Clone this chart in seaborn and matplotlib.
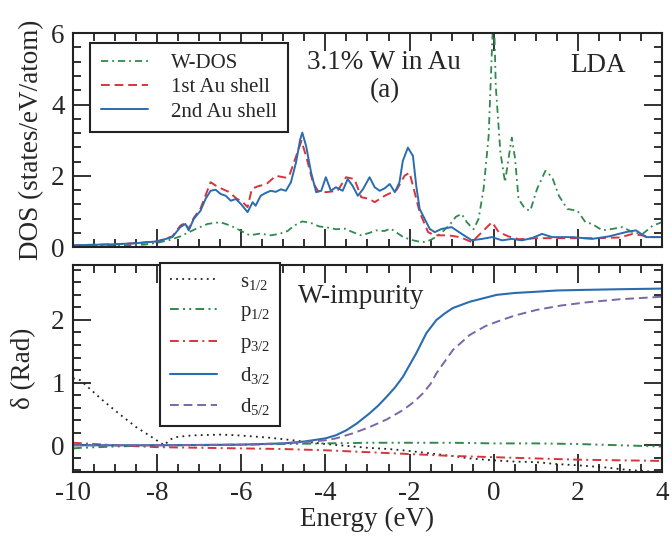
import numpy as np
import pandas as pd
import matplotlib
matplotlib.use("Agg")
import matplotlib.pyplot as plt
from matplotlib.ticker import MultipleLocator
import seaborn as sns

# ---------------- data ----------------
# (a) density of states
wdos_e = [-10, -9, -8.3, -8.0, -7.7, -7.45, -7.1, -6.8, -6.5, -6.25, -6.0, -5.8, -5.55,
          -5.3, -5.1, -4.9, -4.75, -4.55, -4.35, -4.15, -3.95, -3.75, -3.55, -3.35, -3.15,
          -2.95, -2.8, -2.6, -2.45, -2.3, -2.15, -1.95, -1.8, -1.64, -1.5, -1.35, -1.2,
          -1.05, -0.9, -0.76, -0.64, -0.48, -0.36, -0.24, -0.12, -0.06, 0.0, 0.05, 0.16,
          0.27, 0.35, 0.43, 0.51, 0.59, 0.75, 0.87, 1.03, 1.23, 1.39, 1.55, 1.75, 1.99,
          2.18, 2.34, 2.58, 2.82, 3.06, 3.3, 3.54, 3.78, 4.0]
wdos_v = [0.02, 0.04, 0.07, 0.12, 0.2, 0.3, 0.5, 0.65, 0.7, 0.6, 0.45, 0.33, 0.38,
          0.33, 0.37, 0.45, 0.6, 0.72, 0.68, 0.58, 0.55, 0.5, 0.52, 0.42, 0.33,
          0.4, 0.47, 0.45, 0.52, 0.4, 0.28, 0.2, 0.16, 0.14, 0.2, 0.3, 0.45,
          0.62, 0.85, 0.93, 0.7, 0.5, 0.79, 1.63, 3.12, 4.98, 6.8, 4.5, 2.65,
          1.82, 2.47, 3.07, 2.47, 1.35, 1.07, 1.02, 1.63, 2.14, 1.96, 1.44, 1.07, 1.02,
          0.7, 0.65, 0.47, 0.51, 0.56, 0.42, 0.37, 0.6, 0.7]

au1_e = [-10, -9, -8.5, -8.0, -7.64, -7.45, -7.33, -7.25, -7.13, -6.97, -6.85, -6.73,
         -6.6, -6.45, -6.3, -6.1, -6.0, -5.85, -5.75, -5.62, -5.4, -5.18, -4.95, -4.86,
         -4.72, -4.57, -4.44, -4.30, -4.18, -3.99, -3.71, -3.51, -3.31, -3.15, -2.95,
         -2.83, -2.59, -2.31, -2.12, -2.0, -1.88, -1.76, -1.56, -1.4, -1.08, -0.8, -0.52,
         -0.28, -0.04, 0.12, 0.35, 0.6, 1.0, 1.5, 2.0, 2.5, 3.0, 3.3, 3.78, 4.0]
au1_v = [0.05, 0.08, 0.11, 0.16, 0.3, 0.6, 0.68, 0.5, 0.82, 1.08, 1.45, 1.82,
         1.72, 1.63, 1.55, 1.35, 1.3, 1.12, 1.63, 1.7, 1.77, 2.0, 1.95, 2.0,
         2.47, 2.98, 2.47, 1.82, 1.58, 1.54, 1.58, 1.96, 1.91, 1.40, 1.35,
         1.26, 1.44, 1.6, 2.0, 2.09, 1.54, 0.98, 0.42, 0.33, 0.33, 0.28, 0.14,
         0.42, 0.70, 0.42, 0.3, 0.22, 0.25, 0.25, 0.25, 0.25, 0.27, 0.37, 0.28, 0.28]

au2_e = [-10, -9, -8.5, -8.0, -7.64, -7.45, -7.33, -7.25, -7.13, -6.97, -6.85, -6.73,
         -6.61, -6.49, -6.37, -6.25, -6.13, -6.01, -5.85, -5.73, -5.66, -5.54, -5.42,
         -5.30, -5.18, -5.06, -4.94, -4.82, -4.70, -4.60, -4.55, -4.46, -4.34, -4.22,
         -4.10, -3.99, -3.87, -3.75, -3.59, -3.47, -3.35, -3.23, -3.11, -2.95, -2.83,
         -2.71, -2.59, -2.47, -2.35, -2.24, -2.16, -2.04, -1.92, -1.84, -1.76, -1.64,
         -1.52, -1.40, -1.24, -1.0, -0.76, -0.52, -0.28, -0.04, 0.2, 0.43, 0.67, 0.9,
         1.15, 1.39, 1.87, 2.34, 2.74, 3.14, 3.38, 3.62, 4.0]
au2_v = [0.05, 0.08, 0.11, 0.16, 0.28, 0.56, 0.65, 0.47, 0.79, 1.02, 1.35, 1.58,
         1.61, 1.49, 1.44, 1.30, 1.35, 1.21, 0.98, 1.26, 1.16, 1.44, 1.52,
         1.58, 1.55, 1.62, 1.58, 1.82, 2.37, 3.02, 3.21, 2.84, 2.09, 1.54,
         1.58, 1.96, 1.58, 1.68, 1.58, 1.91, 1.71, 1.44, 1.62, 1.96, 1.68,
         1.58, 1.65, 1.77, 1.54, 1.82, 2.42, 2.79, 2.56, 1.71, 1.07, 0.79,
         0.51, 0.42, 0.51, 0.56, 0.37, 0.19, 0.23, 0.28, 0.19, 0.23, 0.19, 0.25,
         0.37, 0.28, 0.28, 0.23, 0.3, 0.42, 0.47, 0.28, 0.28]

# (b) phase shifts of the W impurity
s12_e = [-10, -9.83, -9.3, -8.9, -8.5, -8.15, -7.83, -7.7, -7.55, -7.3, -7.07, -6.5,
         -6.12, -5.7, -5.33, -4.9, -4.53, -4.0, -3.5, -3.0, -2.5, -2.16, -1.5, -1.0,
         -0.57, 0.0, 0.5, 1.02, 1.5, 2.0, 2.6, 3.0, 3.5, 4.0]
s12_v = [1.07, 1.04, 0.72, 0.5, 0.29, 0.14, 0.0, 0.09, 0.13, 0.15, 0.16, 0.17,
         0.16, 0.14, 0.12, 0.09, 0.06, 0.02, -0.01, -0.04, -0.06, -0.08, -0.13, -0.17,
         -0.21, -0.24, -0.26, -0.27, -0.3, -0.32, -0.35, -0.38, -0.41, -0.43]

p12_e = [-10, -9.8, -9, -8, -7, -6, -5, -4, -3, -2, -1, 0, 1, 2, 3, 4]
p12_v = [-0.05, -0.04, -0.02, 0.0, 0.0, 0.01, 0.02, 0.03, 0.04, 0.04, 0.04, 0.03,
         0.03, 0.02, 0.0, -0.02]

p32_e = [-10, -9, -8, -7, -6, -5, -4, -3, -2, -1, 0, 1, 2, 3, 4]
p32_v = [0.04, 0.0, -0.03, -0.04, -0.05, -0.06, -0.08, -0.11, -0.14, -0.17, -0.19,
         -0.21, -0.23, -0.24, -0.25]

d32_e = [-10, -8, -6, -5, -4.5, -4, -3.75, -3.5, -3.25, -2.95, -2.75, -2.55, -2.35,
         -2.16, -2.0, -1.84, -1.6, -1.36, -1.15, -0.97, -0.57, 0.07, 0.5, 1.02, 1.5,
         2.2, 3.0, 4.0]
d32_v = [0.0, 0.0, 0.01, 0.03, 0.06, 0.11, 0.16, 0.24, 0.35, 0.51, 0.63, 0.77, 0.92,
         1.09, 1.28, 1.47, 1.79, 2.0, 2.11, 2.19, 2.29, 2.4, 2.43, 2.45, 2.47,
         2.48, 2.49, 2.5]

d52_e = [-10, -8, -6, -5, -4.5, -4, -3.75, -3.35, -2.95, -2.55, -2.16, -1.9, -1.68,
         -1.5, -1.36, -1.15, -0.97, -0.57, -0.2, 0.07, 0.5, 1.02, 1.6, 2.2, 3.0, 4.0]
d52_v = [0.0, 0.0, 0.01, 0.03, 0.05, 0.08, 0.11, 0.19, 0.29, 0.41, 0.56, 0.69, 0.83,
         0.98, 1.15, 1.35, 1.52, 1.76, 1.9, 1.97, 2.07, 2.16, 2.23, 2.28, 2.33, 2.37]

energy_ticks = [-10, -8, -6, -4, -2, 0, 2, 4]

# ---------------- style ----------------
sns.set_theme(style="ticks")
plt.rcParams["font.family"] = ["Liberation Serif", "DejaVu Serif"]
plt.rcParams["mathtext.fontset"] = "custom"
plt.rcParams["mathtext.rm"] = "Liberation Serif"
plt.rcParams["mathtext.it"] = "Liberation Serif:italic"
plt.rcParams["axes.unicode_minus"] = False
plt.rcParams["axes.linewidth"] = 1.5
plt.rcParams["axes.edgecolor"] = "#222222"

GREEN = "#2f8a4c"
RED = "#d8343c"
BLUE = "#2a6cb0"
PURPLE = "#7a66a8"

DASHDOT = (0, (4.0, 2.2, 1.0, 2.2))
DASHED = (0, (4.5, 2.5))
DASHDOTDOT = (0, (4.5, 2.2, 1.0, 2.2, 1.0, 2.2))
DASHDASHDOT = (0, (4.5, 2.2, 1.0, 2.2))
DOTTED = (0, (1.0, 2.4))

fig = plt.figure(figsize=(6.7, 5.36), dpi=100)
ax1 = fig.add_axes([0.109, 0.539, 0.879, 0.399])
ax2 = fig.add_axes([0.109, 0.119, 0.879, 0.387])


def draw(ax, e, v, **kw):
    df = pd.DataFrame({"Energy": e, "value": v})
    sns.lineplot(data=df, x="Energy", y="value", ax=ax, estimator=None,
                 sort=False, legend=False, **kw)


draw(ax1, wdos_e, wdos_v, color=GREEN, linestyle=DASHDOT, linewidth=1.3, label="W-DOS")
draw(ax1, au1_e, au1_v, color=RED, linestyle=DASHED, linewidth=1.4, label="1st Au shell")
draw(ax1, au2_e, au2_v, color=BLUE, linestyle="-", linewidth=1.4, label="2nd Au shell")

draw(ax2, s12_e, s12_v, color="#222222", linestyle=DOTTED, linewidth=1.3,
     label=r"$\mathrm{s}_{1/2}$")
draw(ax2, p12_e, p12_v, color=GREEN, linestyle=DASHDOTDOT, linewidth=1.4,
     label=r"$\mathrm{p}_{1/2}$")
draw(ax2, p32_e, p32_v, color=RED, linestyle=DASHDASHDOT, linewidth=1.4,
     label=r"$\mathrm{p}_{3/2}$")
draw(ax2, d32_e, d32_v, color=BLUE, linestyle="-", linewidth=1.5,
     label=r"$\mathrm{d}_{3/2}$")
draw(ax2, d52_e, d52_v, color=PURPLE, linestyle=DASHED, linewidth=1.4,
     label=r"$\mathrm{d}_{5/2}$")

for ax in (ax1, ax2):
    ax.set_xlim(-10, 4)
    ax.set_xticks(energy_ticks)
    ax.xaxis.set_minor_locator(MultipleLocator(0.5))
    ax.tick_params(which="both", direction="in", top=True, right=True,
                   width=1.3, color="#222222", labelsize=19.5, pad=6)
    ax.tick_params(which="major", length=13)
    ax.tick_params(which="minor", length=5.5)

ax1.set_ylim(0, 6)
ax1.set_yticks([0, 2, 4, 6])
ax1.yaxis.set_minor_locator(MultipleLocator(0.4))
ax1.tick_params(labelbottom=False)
ax1.set_xlabel("")
ax1.set_ylabel("DOS (states/eV/atom)", fontsize=19.5, labelpad=5)

ax2.set_ylim(-0.43, 2.88)
ax2.set_yticks([0, 1, 2])
ax2.yaxis.set_minor_locator(MultipleLocator(0.2))
ax2.set_xlabel("Energy (eV)", fontsize=19.5, labelpad=1)
ax2.set_ylabel("δ (Rad)", fontsize=19.5, labelpad=11)

ax1.text(0.528, 0.864, "3.1% W in Au", transform=ax1.transAxes, fontsize=19.5,
         ha="center", va="center")
ax1.text(0.53, 0.734, "(a)", transform=ax1.transAxes, fontsize=19.5,
         ha="center", va="center")
ax1.text(0.891, 0.85, "LDA", transform=ax1.transAxes, fontsize=19.5,
         ha="center", va="center")
ax2.text(0.489, 0.845, "W-impurity", transform=ax2.transAxes, fontsize=19.5,
         ha="center", va="center")

leg1 = ax1.legend(loc="upper left", bbox_to_anchor=(0.029, 0.953), borderaxespad=0,
                  fontsize=15, handlelength=2.3, handletextpad=1.1,
                  labelspacing=0.22, borderpad=0.5, fancybox=False,
                  edgecolor="#222222", framealpha=1)
leg1.get_frame().set_linewidth(1.5)

leg2 = ax2.legend(loc="upper left", bbox_to_anchor=(0.148, 1.01), borderaxespad=0,
                  fontsize=15, handlelength=2.3, handletextpad=1.1,
                  labelspacing=0.48, borderpad=0.45, fancybox=False,
                  edgecolor="#222222", framealpha=1)
leg2.get_frame().set_linewidth(1.5)

fig.savefig("out.png", dpi=100)
